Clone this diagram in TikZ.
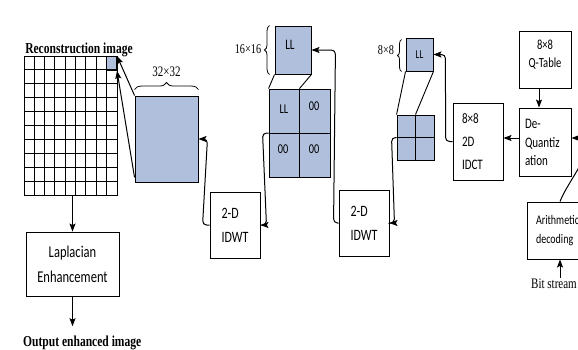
\documentclass[tikz,border=0pt]{standalone}
\usepackage{fontspec}
\setmainfont[FakeStretch=0.76]{Liberation Serif}
\newfontfamily\carl[FakeStretch=0.76]{Carlito}
\usetikzlibrary{arrows.meta,decorations.pathreplacing,calc}
\definecolor{blkblue}{RGB}{176,192,220}
\begin{document}
\begin{tikzpicture}[x=1pt,y=-1pt,
  every node/.style={inner sep=0pt},
  blk/.style={draw, fill=blkblue, line width=0.9pt},
  box/.style={draw, line width=0.9pt},
  arr/.style={-{Stealth[length=8pt,width=6pt,inset=1.5pt]}, line width=1pt, rounded corners=4pt},
  brc/.style={decorate, decoration={brace, amplitude=#1}, line width=0.8pt},
  brc/.default=5pt,
  sfs/.style={font=\carl\fontsize{#1}{16}\selectfont},
  sfs/.default=14.5,
  serifb/.style={font=\bfseries\fontsize{15.2}{17}\selectfont}]
\clip (0,0) rectangle (578,349);
\fill[white] (0,0) rectangle (578,349);

% title and grid
\node[serifb, anchor=base] (title) at (79,53) {Reconstruction image};
\node[blk, minimum width=10.33pt, minimum height=13.9pt, anchor=north east] (cell) at (117,56) {};
\node[draw, line width=1pt, minimum width=93pt, minimum height=139pt, anchor=north west] (grid) at (24,56) {};
\foreach \i in {1,...,8} \draw[line width=1pt] (grid.north west) ++(\i*10.333,0) -- ++(0,139);
\foreach \j in {1,...,9} \draw[line width=1pt] (grid.north west) ++(0,\j*13.9) -- ++(93,0);

% Laplacian
\node[box, minimum width=93pt, minimum height=64pt, align=center, sfs=16.5] (lap) at (72.5,264) {Laplacian\\[9pt]Enhancement};
\node[serifb, anchor=base west] (out) at (23,346) {Output enhanced image};
\draw[arr] (lap.north |- grid.south) -- (lap.north);
\draw[arr] (lap.south) -- ($(lap.south |- out.north)+(0,-9)$);

% 32x32 block
\node[blk, minimum width=63pt, minimum height=86pt] (blk32) at (166.5,139) {};
\draw[brc=7pt] ($(blk32.north west)+(0,-6)$) -- ($(blk32.north east)+(0,-6)$);
\node[font=\fontsize{14.5}{16}\selectfont] (l32) at (166.5,72) {32×32};
\draw[arr] (blk32.north west) -- (cell.north east);
\draw[arr] ($(blk32.south west)+(0,-5)$) -- (cell.south east);

% IDWT 1
\node[box, minimum width=50pt, minimum height=66pt, align=left, sfs=15.8] (idwt1) at (235,225) {2-D\\[8pt]IDWT};
\draw[arr] (idwt1.west) -- ++(-7,0) -- ($(blk32.east)+(9,0)$) -- (blk32.east);

% 16x16 LL and quad
\node[blk, minimum width=36pt, minimum height=48pt] (ll16) at (293,50) {};
\node[sfs=14.5] (ll16t) at (290,45) {LL};
\draw[brc=5pt] ($(ll16.south west)+(-5,0)$) -- ($(ll16.north west)+(-5,0)$);
\node[font=\fontsize{13.5}{15}\selectfont] (l16) at (248,49) {16×16};
\node[blk, minimum width=61pt, minimum height=88pt] (quad) at (299.5,133) {};
\draw[line width=0.9pt] (quad.north) -- (quad.south);
\draw[line width=0.9pt] (quad.west) -- (quad.east);
\node[sfs=13.5] (qa) at (284,109) {LL};
\node[sfs=13.5] (qb) at (314,106) {00};
\node[sfs=13.5] (qc) at (283,149) {00};
\node[sfs=13.5] (qd) at (314,149) {00};
\draw[line width=0.9pt] (ll16.south west) -- (quad.north west);
\draw[line width=0.9pt] (ll16.south east) -- (quad.north);
\draw[arr] (quad.west) -- ++(-6,0) -- ($(idwt1.east)+(6,0)$) -- (idwt1.east);

% IDWT 2
\node[box, minimum width=50pt, minimum height=66pt, align=left, sfs=15.8] (idwt2) at (364,223) {2-D\\[8pt]IDWT};
\draw[arr] (idwt2.west) -- ++(-5,0) -- ($(ll16.east)+(24,0)$) -- (ll16.east);

% 8x8 LL and quad
\node[blk, minimum width=27pt, minimum height=33pt] (ll8) at (419.5,54.5) {};
\node[sfs=12] (ll8t) at (419.5,55) {LL};
\draw[brc=4pt] ($(ll8.south west)+(-4,0)$) -- ($(ll8.north west)+(-4,2)$);
\node[font=\fontsize{13.5}{15}\selectfont] (l8) at (386,50) {8×8};
\node[blk, minimum width=37pt, minimum height=45pt] (q8) at (415.5,137.5) {};
\draw[line width=0.9pt] (q8.north) -- (q8.south);
\draw[line width=0.9pt] (q8.west) -- (q8.east);
\draw[line width=0.9pt] (ll8.south west) -- (q8.north west);
\draw[line width=0.9pt] (ll8.south east) -- (q8.north);
\draw[arr] (q8.west) -- ++(-5,0) -- ($(idwt2.east)+(5,0)$) -- (idwt2.east);

% IDCT
\node[box, minimum width=50pt, minimum height=77pt, text width=32pt, align=left, sfs=14.5] (idct) at (478,141.5) {8×8\\[7pt]2D\\[7pt]IDCT};
\draw[arr] (idct.west) -- ++(-7,0) -- ($(ll8.east)+(12,0)$) -- (ll8.east);

% Q-table and dequantization
\node[box, minimum width=52pt, minimum height=57pt] (qt) at (545,59.5) {};
\node[align=center, sfs=13.9] (qtt) at (545,55) {8×8\\[2pt]Q-Table};
\node[box, minimum width=52pt, minimum height=68pt, text width=40pt, align=left, sfs=14.5] (dq) at (545,142) {De-\\[3pt]Quantiz\\[2pt]ation};
\draw[arr] ($(qt.south)+(-6,0)$) -- ($(dq.north)+(-6,0)$);
\coordinate (dqw) at ([yshift=4pt]dq.west);
\draw[arr] (dqw) -- (dqw -| idct.east);

% Arithmetic decoding
\node[box, minimum width=66pt, minimum height=57pt, text width=48pt, align=left, sfs=13.2] (ar) at (560,230.5) {Arithmetic\\[3pt]decoding};
\draw[arr] (ar.north) .. controls (568,180) and (605,138) .. ([yshift=4pt]dq.east);
\node[font=\fontsize{14.5}{16}\selectfont, anchor=base west] (bits) at (531,288) {Bit stream};
\draw[arr] (ar.south |- bits.north) -- (ar.south);
\end{tikzpicture}
\end{document}
